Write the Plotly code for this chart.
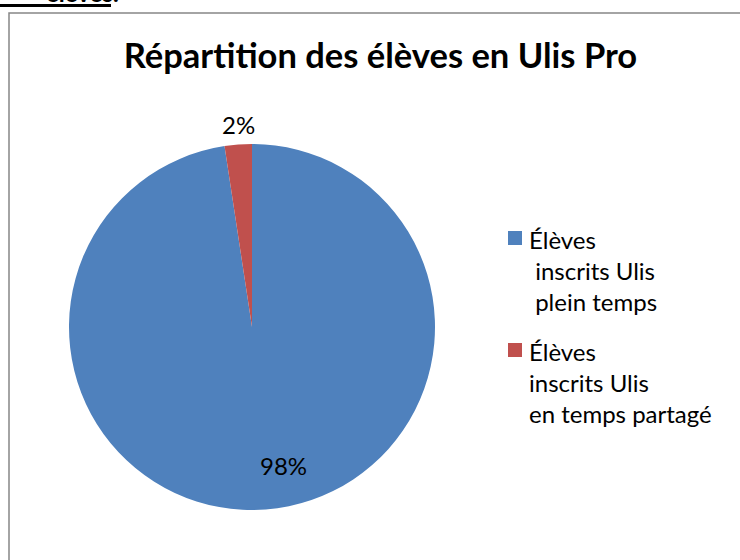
import plotly.graph_objects as go

labels = ["Élèves<br> inscrits Ulis<br> plein temps", "Élèves<br>inscrits Ulis<br>en temps partagé"]
values = [97.6, 2.4]
colors = ["#4F81BD", "#C0504D"]
title_text = "Répartition des élèves en Ulis Pro"

W, H = 740, 560
total = sum(values)
pct = [f"{round(100 * v / total)}%" for v in values]

fig = go.Figure()
fig.add_trace(go.Pie(
    labels=labels,
    values=values,
    sort=False,
    direction="clockwise",
    rotation=0,
    marker=dict(colors=colors, line=dict(color="white", width=0)),
    textinfo="none",
    domain=dict(x=[69 / W, 435 / W], y=[50 / H, 416 / H]),
    hoverinfo="label+percent",
    showlegend=False,
))

def px(x):
    return x / W

def py(y):
    return 1 - y / H

annotations = [
    # partially visible heading above the chart frame
    dict(text="<b>élèves.</b>", xref="paper", yref="paper", x=px(121), y=py(9),
         xanchor="right", yanchor="bottom", showarrow=False,
         font=dict(family="Lato", size=24, color="black")),
    # data labels
    dict(text=pct[0], xref="paper", yref="paper", x=px(283), y=py(465),
         xanchor="center", yanchor="middle", showarrow=False,
         font=dict(family="Lato", size=24, color="black")),
    dict(text=pct[1], xref="paper", yref="paper", x=px(238), y=py(125),
         xanchor="center", yanchor="middle", showarrow=False,
         font=dict(family="Lato", size=24, color="black")),
]

shapes = [
    dict(type="rect", xref="paper", yref="paper",
         x0=px(9), x1=1.02, y0=-0.02, y1=py(13),
         line=dict(color="#868686", width=1.5), fillcolor="rgba(0,0,0,0)"),
    dict(type="line", xref="paper", yref="paper", x0=px(-2), x1=px(111), y0=py(5.5), y1=py(5.5),
         line=dict(color="black", width=3)),
]

# manual legend
legend_tops = [223, 335]
for lab, col, top in zip(labels, colors, legend_tops):
    shapes.append(dict(type="rect", xref="paper", yref="paper",
                       x0=px(508), x1=px(522), y0=py(top + 8), y1=py(top + 22),
                       line=dict(width=0), fillcolor=col))
    annotations.append(dict(text=lab, xref="paper", yref="paper", x=px(527), y=py(top),
                            xanchor="left", yanchor="top", align="left", showarrow=False,
                            font=dict(family="Lato", size=24, color="black")))

fig.update_layout(
    width=W, height=H,
    margin=dict(l=0, r=0, t=0, b=0),
    paper_bgcolor="white",
    font=dict(family="Lato", color="black"),
    title=dict(text="<b>" + title_text + "</b>", x=380.5 / W, xanchor="center",
               y=1 - 56 / H, yanchor="middle", yref="container",
               font=dict(family="Lato", size=34.5, color="black")),
    shapes=shapes,
    annotations=annotations,
)

fig.write_html("out.html", config={"displayModeBar": False},
               post_script="document.body.style.margin='0';document.body.style.overflow='hidden';")
